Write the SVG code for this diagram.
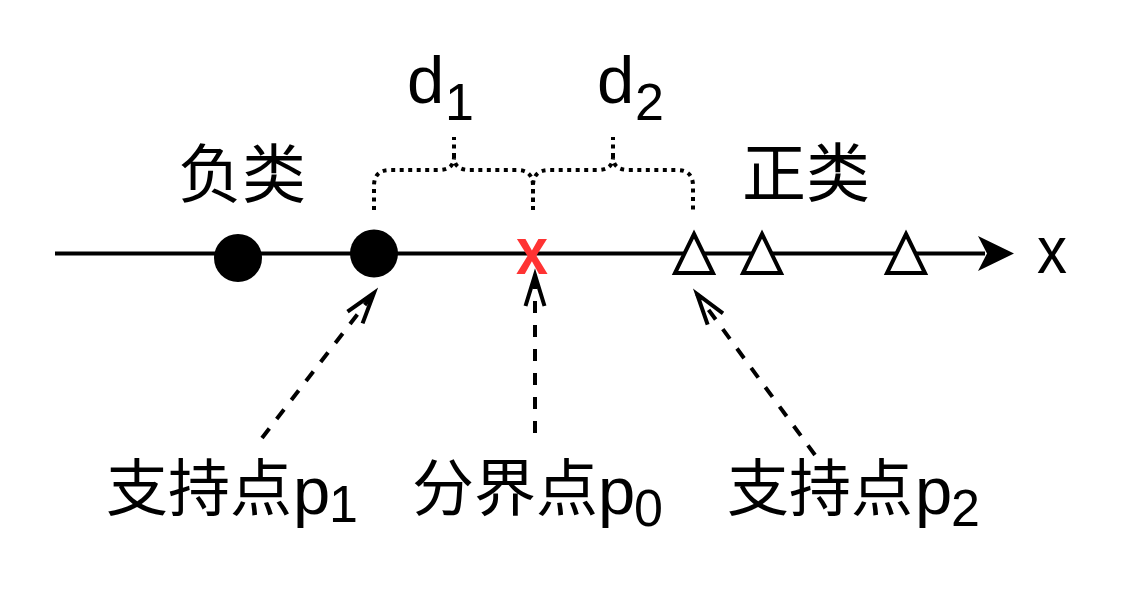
<svg xmlns="http://www.w3.org/2000/svg" width="1136" height="596" viewBox="0 0 1136 596">
<style>
.cjk{font-family:"Noto Sans CJK SC","Noto Sans",sans-serif;font-size:64px;fill:#000}
.cjkb{font-family:"Noto Sans CJK SC","Noto Sans",sans-serif;font-size:62px;fill:#000}
.lat{font-family:"Liberation Sans",Arial,sans-serif;font-size:67px;fill:#000}
.sub{font-family:"Liberation Sans",Arial,sans-serif;font-size:52px;fill:#000}
.dash{fill:none;stroke:#000;stroke-width:4;stroke-dasharray:12 12}
.brace{fill:none;stroke:#000;stroke-width:4;stroke-dasharray:4 4.5}
.tri{fill:#fff;stroke:#000;stroke-width:4;stroke-linejoin:miter}
</style>
<defs>
<marker id="open" markerUnits="userSpaceOnUse" viewBox="-40 -15 44 30" refX="0" refY="0" markerWidth="44" markerHeight="30" orient="auto" overflow="visible">
<path d="M-31,-9.5 L0,0 L-31,9.5" fill="none" stroke="#000" stroke-width="4" stroke-dasharray="none"/>
</marker>
</defs>
<rect width="1136" height="596" fill="#fff"/>
<g id="axis">
<line x1="55" y1="253.5" x2="985" y2="253.5" stroke="#000" stroke-width="4"/>
<path d="M978,236 L1014,253.5 L978,271 L987,253.5 Z" fill="#000"/>
<text class="lat" x="1037" y="273" textLength="30" lengthAdjust="spacingAndGlyphs">x</text>
</g>
<g id="neg1"><circle cx="238" cy="258" r="24" fill="#000"/></g>
<g id="neg2"><circle cx="374" cy="253.5" r="24" fill="#000"/></g>
<g id="boundary"><text x="516" y="274" font-family="Liberation Sans, Arial, sans-serif" font-size="67" font-weight="bold" fill="#FF3333" textLength="32" lengthAdjust="spacingAndGlyphs">x</text></g>
<g id="pos1"><path class="tri" d="M694,234 L713,273 L675,273 Z"/></g>
<g id="pos2"><path class="tri" d="M762,234 L781,273 L743,273 Z"/></g>
<g id="pos3"><path class="tri" d="M906,234 L925,273 L887,273 Z"/></g>
<g id="label-neg"><text class="cjk" x="178" y="197">负类</text></g>
<g id="label-pos"><text class="cjk" x="742" y="196">正类</text></g>
<g id="brace-d1">
<path class="brace" d="M374,210 L374,186 Q374,170 390,170 L438,170 Q454,170 454,157 Q454,170 470,170 L517,170 Q533,170 533,186 L533,210"/>
<path class="brace" d="M454,157 L454,137"/>
<text class="lat" x="407" y="103">d</text><text class="sub" x="445" y="120">1</text>
</g>
<g id="brace-d2">
<path class="brace" d="M533,210 L533,186 Q533,170 549,170 L597,170 Q613,170 613,157 Q613,170 629,170 L677,170 Q693,170 693,186 L693,210"/>
<path class="brace" d="M613,157 L613,137"/>
<text class="lat" x="597" y="103">d</text><text class="sub" x="635" y="120">2</text>
</g>
<g id="label-p1"><text class="cjkb" x="106" y="511">支持点</text><text class="lat" x="293" y="514">p</text><text class="sub" x="329" y="522">1</text></g>
<g id="label-p0"><text class="cjkb" x="412" y="511">分界点</text><text class="lat" x="598" y="514">p</text><text class="sub" x="634" y="526">0</text></g>
<g id="label-p2"><text class="cjkb" x="727" y="511">支持点</text><text class="lat" x="915" y="514">p</text><text class="sub" x="951" y="526">2</text></g>
<g id="connectors">
<line class="dash" x1="262" y1="438" x2="374" y2="293" marker-end="url(#open)"/>
<line class="dash" x1="535" y1="433" x2="535" y2="275" marker-end="url(#open)"/>
<line class="dash" x1="815" y1="455" x2="697" y2="294" marker-end="url(#open)"/>
</g>
</svg>
